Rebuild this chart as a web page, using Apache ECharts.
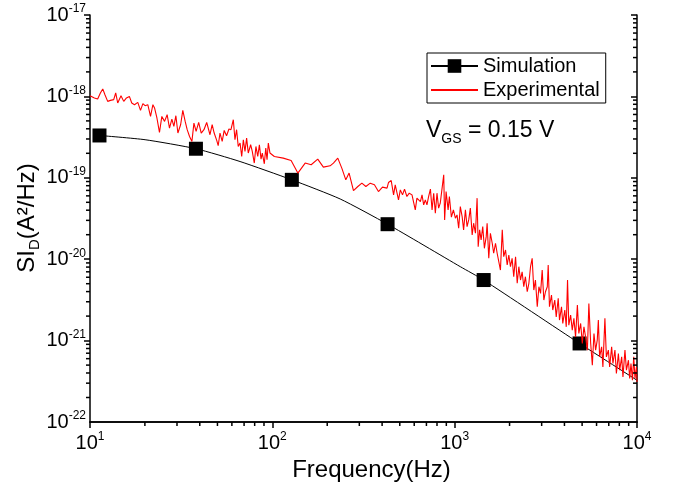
<!DOCTYPE html>
<html>
<head>
<meta charset="utf-8">
<script src="https://cdn.jsdelivr.net/npm/echarts@6/dist/echarts.min.js"></script>
<style>
html,body{margin:0;padding:0;background:#fff;}
#chart{width:676px;height:482px;}
</style>
</head>
<body>
<div id="chart"></div>
<script>
// ---- Data (log10 of frequency in Hz, log10 of SI_D in A^2/Hz) ----
const simMarkerLogF = [1.052, 1.581, 2.107, 2.632, 3.159, 3.685];
const simMarkerLogS = [-18.480, -18.643, -19.025, -19.570, -20.256, -21.035];
const simCurveLogF = [1.302, 1.823, 2.372, 3.031, 4.000];
const simCurveLogS = [-18.532, -18.800, -19.260, -20.092, -21.487];

const expLogF = [1.000,1.006,1.024,1.042,1.057,1.070,1.082,1.097,1.112,1.130,
1.141,1.152,1.170,1.185,1.200,1.216,1.229,1.244,1.262,1.277,
1.290,1.302,1.317,1.332,1.345,1.354,1.367,1.381,1.394,1.409,
1.423,1.436,1.449,1.460,1.471,1.482,1.497,1.509,1.522,1.533,
1.546,1.559,1.570,1.582,1.596,1.610,1.625,1.640,1.658,1.670,
1.681,1.695,1.703,1.713,1.725,1.736,1.749,1.762,1.773,1.786,
1.795,1.804,1.813,1.823,1.832,1.841,1.850,1.859,1.868,1.881,
1.890,1.901,1.910,1.920,1.929,1.938,1.945,1.956,1.964,1.971,
1.978,1.987,1.997,2.011,2.060,2.103,2.140,2.180,2.213,2.249,
2.280,2.317,2.335,2.359,2.381,2.403,2.421,2.445,2.469,2.491,
2.513,2.537,2.560,2.582,2.604,2.629,2.637,2.652,2.665,2.674,
2.684,2.692,2.702,2.714,2.725,2.738,2.751,2.766,2.775,2.784,
2.793,2.802,2.812,2.821,2.830,2.839,2.848,2.857,2.867,2.876,
2.885,2.894,2.903,2.912,2.921,2.931,2.940,2.945,2.953,2.964,
2.971,2.982,2.993,3.004,3.013,3.022,3.031,3.041,3.049,3.059,
3.068,3.077,3.086,3.096,3.104,3.114,3.123,3.129,3.137,3.145,
3.154,3.163,3.173,3.178,3.187,3.196,3.206,3.214,3.224,3.233,
3.242,3.251,3.261,3.269,3.279,3.288,3.297,3.306,3.315,3.324,
3.334,3.343,3.352,3.361,3.370,3.379,3.388,3.398,3.407,3.416,
3.425,3.434,3.443,3.453,3.462,3.471,3.480,3.489,3.498,3.508,
3.513,3.520,3.531,3.538,3.549,3.557,3.568,3.575,3.586,3.593,
3.604,3.612,3.619,3.626,3.636,3.645,3.654,3.663,3.673,3.681,
3.691,3.700,3.709,3.718,3.728,3.736,3.746,3.755,3.764,3.773,
3.782,3.788,3.795,3.806,3.813,3.824,3.832,3.843,3.850,3.861,
3.868,3.879,3.887,3.898,3.905,3.916,3.923,3.934,3.942,3.953,
3.960,3.967,3.975,3.982,3.989,3.997,4.000];

const expLogS = [-17.991,-17.991,-18.019,-18.032,-17.958,-17.908,-17.979,-18.061,-18.049,-18.040,
-17.958,-18.081,-17.991,-18.061,-18.019,-18.000,-18.081,-18.102,-18.073,-18.172,
-18.089,-18.114,-18.102,-18.246,-18.102,-18.142,-18.265,-18.443,-18.246,-18.307,
-18.225,-18.389,-18.278,-18.369,-18.237,-18.450,-18.348,-18.172,-18.307,-18.409,
-18.492,-18.553,-18.327,-18.430,-18.320,-18.450,-18.409,-18.320,-18.471,-18.348,
-18.450,-18.541,-18.606,-18.450,-18.553,-18.418,-18.483,-18.401,-18.409,-18.286,
-18.532,-18.409,-18.615,-18.573,-18.738,-18.532,-18.676,-18.512,-18.696,-18.594,
-18.676,-18.819,-18.615,-18.738,-18.594,-18.770,-18.696,-18.828,-18.635,-18.779,
-18.573,-18.696,-18.717,-18.738,-18.758,-18.787,-18.942,-18.819,-18.840,-18.770,
-18.869,-18.853,-18.819,-18.758,-18.881,-19.025,-18.942,-19.157,-19.107,-19.066,
-19.107,-19.066,-19.086,-19.169,-19.115,-19.127,-19.058,-19.034,-19.210,-19.086,
-19.189,-19.271,-19.148,-19.210,-19.139,-19.230,-19.189,-19.210,-19.222,-19.394,
-19.250,-19.230,-19.292,-19.210,-19.333,-19.271,-19.333,-19.230,-19.139,-19.394,
-19.189,-19.435,-19.189,-19.373,-19.312,-19.127,-18.963,-19.517,-19.169,-19.394,
-19.230,-19.484,-19.394,-19.496,-19.456,-19.619,-19.354,-19.477,-19.640,-19.394,
-19.600,-19.517,-19.373,-19.702,-19.558,-19.681,-19.250,-19.846,-19.640,-19.763,
-19.600,-19.866,-19.723,-19.558,-19.989,-19.681,-19.804,-19.927,-19.804,-19.927,
-19.907,-20.133,-19.640,-19.969,-19.887,-20.071,-19.948,-20.092,-19.989,-20.215,
-19.969,-20.296,-20.092,-20.256,-20.154,-20.338,-20.215,-20.400,-20.296,-20.092,
-19.989,-20.379,-20.256,-20.584,-20.338,-20.420,-20.133,-20.502,-20.400,-20.338,
-20.071,-20.584,-20.440,-20.625,-20.502,-20.708,-20.481,-20.748,-20.584,-20.789,
-20.625,-20.831,-20.256,-20.810,-20.687,-20.871,-20.727,-20.954,-20.564,-20.912,
-20.789,-21.035,-20.831,-20.954,-21.117,-20.543,-21.035,-21.302,-20.912,-21.117,
-20.994,-20.748,-21.200,-21.077,-21.323,-20.727,-21.200,-21.117,-21.323,-21.077,
-21.281,-21.117,-21.404,-21.158,-21.364,-21.200,-21.446,-21.117,-21.364,-21.241,
-21.466,-21.281,-21.487,-21.200,-21.466,-21.323,-21.508];

const xMin = 10, xMax = 10000;
const yMin = 1e-22, yMax = 1e-17;
// minor tick values (2..9 within each decade)
const xMinorTicks = [20,30,40,50,60,70,80,90,200,300,400,500,600,700,800,900,
  2000,3000,4000,5000,6000,7000,8000,9000];
const yMinorTicks = [2e-22,3e-22,4e-22,5e-22,6e-22,7e-22,8e-22,9e-22,
  2e-21,3e-21,4e-21,5e-21,6e-21,7e-21,8e-21,9e-21,
  2e-20,3e-20,4e-20,5e-20,6e-20,7e-20,8e-20,9e-20,
  2e-19,3e-19,4e-19,5e-19,6e-19,7e-19,8e-19,9e-19,
  2e-18,3e-18,4e-18,5e-18,6e-18,7e-18,8e-18,9e-18];

// ---- Build series data ----
const p10 = v => Math.pow(10, v);
const simPts = [];
simMarkerLogF.forEach((f, i) => simPts.push({lf: f, ls: simMarkerLogS[i], mark: true}));
simCurveLogF.forEach((f, i) => simPts.push({lf: f, ls: simCurveLogS[i], mark: false}));
simPts.sort((a, b) => a.lf - b.lf);
const simData = simPts.map(p => p.mark
  ? {value: [p10(p.lf), p10(p.ls)]}
  : {value: [p10(p.lf), p10(p.ls)], symbol: 'none'});
const expData = expLogF.map((f, i) => [p10(f), p10(expLogS[i])]);

const FONT = '"Liberation Sans", Arial, sans-serif';
const expFmt = v => '{b|10}{s|' + Math.round(Math.log10(v)) + '}';
const richLbl = {
  b: {fontSize: 20, fontFamily: FONT, color: '#000', lineHeight: 24},
  s: {fontSize: 12, fontFamily: FONT, color: '#000', lineHeight: 13, verticalAlign: 'top'}
};
const richLblG = {
  b: {fontSize: 20, fontFamily: FONT, fill: '#000', lineHeight: 24},
  s: {fontSize: 12, fontFamily: FONT, fill: '#000', lineHeight: 13, verticalAlign: 'top'}
};
const axLine = {show: true, lineStyle: {color: '#000', width: 1.5}};
const ML = 4; // minor tick length (including the part under the axis line)

const tickSeries = (data, size, offset) => ({
  type: 'scatter', xAxisIndex: 0, yAxisIndex: 0, clip: false, silent: true, z: 6,
  symbol: 'rect', symbolSize: size, symbolOffset: offset,
  itemStyle: {color: '#000', opacity: 1}, emphasis: {disabled: true},
  data: data
});

const chart = echarts.init(document.getElementById('chart'), null, {renderer: 'canvas'});
chart.setOption({
  animation: false,
  backgroundColor: '#fff',
  grid: {left: 90, right: 39, top: 15, bottom: 60, containLabel: false, outerBoundsMode: 'none'},
  legend: {
    orient: 'vertical', left: 427, top: 53,
    itemWidth: 47, itemHeight: 17, itemGap: 4,
    padding: [3, 6, 3, 3],
    borderColor: '#000', borderWidth: 1,
    textStyle: {fontSize: 20, fontFamily: FONT, color: '#000', lineHeight: 20},
    data: ['Simulation', {name: 'Experimental', itemStyle: {opacity: 0}}]
  },
  xAxis: [{
    type: 'log', logBase: 10, min: xMin, max: xMax, position: 'bottom',
    axisLine: axLine,
    axisTick: {show: true, inside: false, length: 6, lineStyle: {color: '#000', width: 1.5}},
    splitLine: {show: false},
    axisLabel: {formatter: expFmt, rich: richLbl, margin: 9, showMinLabel: true, showMaxLabel: true, hideOverlap: false},
    name: 'Frequency(Hz)', nameLocation: 'middle', nameGap: 22,
    nameTextStyle: {fontSize: 24, fontFamily: FONT, color: '#000', padding: [0, 0, 0, 16]}
  }, {
    type: 'log', logBase: 10, min: xMin, max: xMax, position: 'top',
    axisLine: axLine, axisTick: {show: false}, axisLabel: {show: false}, splitLine: {show: false}
  }],
  yAxis: [{
    type: 'log', logBase: 10, min: yMin, max: yMax, position: 'left',
    axisLine: axLine,
    axisTick: {show: true, inside: false, length: 6, lineStyle: {color: '#000', width: 1.5}},
    splitLine: {show: false},
    axisLabel: {formatter: v => (v < yMin * 1.5 ? '' : expFmt(v)), rich: richLbl, margin: 4,
      showMinLabel: true, showMaxLabel: true, hideOverlap: false}
  }, {
    type: 'log', logBase: 10, min: yMin, max: yMax, position: 'right',
    axisLine: axLine,
    axisTick: {show: true, inside: true, length: 6, lineStyle: {color: '#000', width: 1.5}},
    axisLabel: {show: false}, splitLine: {show: false}
  }],
  series: [{
    name: 'Simulation', type: 'line', xAxisIndex: 0, yAxisIndex: 0,
    data: simData, smooth: 0.2,
    symbol: 'rect', symbolSize: 14, showSymbol: true,
    lineStyle: {color: '#000', width: 1},
    itemStyle: {color: '#000'},
    z: 2
  }, {
    name: 'Experimental', type: 'line', xAxisIndex: 0, yAxisIndex: 0,
    data: expData, symbol: 'none',
    lineStyle: {color: '#ff0000', width: 1.1},
    itemStyle: {color: '#ff0000'},
    z: 3
  },
  // minor ticks: bottom (outward), left (outward), right (inward)
  tickSeries(xMinorTicks.map(v => [v, yMin]), [1.5, ML], [0, ML / 2]),
  tickSeries(yMinorTicks.map(v => [xMin, v]), [ML, 1.5], [-ML / 2, 0]),
  tickSeries(yMinorTicks.map(v => [xMax, v]), [ML, 1.5], [-ML / 2, 0])
  ]
});

// ---- Extra text: titles and the bottom-left tick label ----
const toPx = (x, y) => chart.convertToPixel({gridIndex: 0}, [x, y]);
const pMin = toPx(xMin, yMin);
chart.setOption({graphic: [{
  type: 'text', x: 27, y: 218, rotation: Math.PI / 2, z: 10,
  style: {
    align: 'center', verticalAlign: 'middle',
    rich: {
      a: {fontSize: 24, fontFamily: FONT, fill: '#000', lineHeight: 30},
      d: {fontSize: 15, fontFamily: FONT, fill: '#000', lineHeight: 15, verticalAlign: 'bottom'}
    },
    text: '{a|SI}{d|D}{a|(A²/Hz)}'
  }
}, {
  type: 'text', x: 426, y: 116, z: 10,
  style: {
    rich: {
      v: {fontSize: 23, fontFamily: FONT, fill: '#000', lineHeight: 30},
      g: {fontSize: 14, fontFamily: FONT, fill: '#000', lineHeight: 14, verticalAlign: 'bottom'}
    },
    text: '{v|V}{g|GS}{v| = 0.15 V}'
  }
}, {
  type: 'text', x: pMin[0] - 4, y: pMin[1], z: 10,
  style: {align: 'right', verticalAlign: 'middle', rich: richLblG, text: expFmt(yMin)}
}]});
</script>
</body>
</html>
